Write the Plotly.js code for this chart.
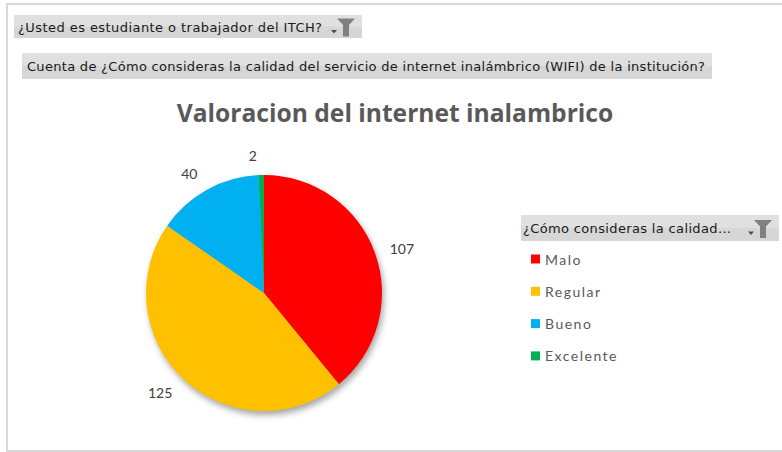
<!DOCTYPE html>
<html><head><meta charset="utf-8">
<script src="https://cdn.plot.ly/plotly-3.0.1.min.js"></script>
<style>
html,body{margin:0;padding:0;background:#fff;}
#chart{width:782px;height:452px;}
.pielayer .trace:first-child{filter:drop-shadow(2px 4px 3px rgba(0,0,0,0.35));}
</style></head><body><div id="chart"></div>
<script>
const categories = ['Malo', 'Regular', 'Bueno', 'Excelente'];
const counts = [107, 125, 40, 2];
const colors = ['#FF0000', '#FFC000', '#00B0F0', '#00B050'];
const chartTitle = 'Valoracion del internet inalambrico';
const filterField = '¿Usted es estudiante o trabajador del ITCH?';
const valueField = 'Cuenta de ¿Cómo consideras la calidad del servicio de internet inalámbrico (WIFI) de la institución?';
const legendField = '¿Cómo consideras la calidad...';

const W = 782, H = 452;
const px = x => x / W, py = y => 1 - y / H;
function domainFor(cx, cy, r) { return {x: [px(cx - r), px(cx + r)], y: [py(cy + r), py(cy - r)]}; }
function P(pts) { return 'M' + pts.map(p => px(p[0]) + ',' + py(p[1])).join('L') + 'Z'; }
function rect(x0, y0, x1, y1, fill, line) {
  return {type: 'rect', xref: 'paper', yref: 'paper', x0: px(x0), x1: px(x1), y0: py(y1), y1: py(y0),
    fillcolor: fill, line: line || {width: 0}, layer: 'below'};
}
function button(x0, y0, x1, y1) {
  return [rect(x0, y0, x1, y1, '#d6d6d6'), rect(x0, y0, x1, (y0 + y1) / 2, '#e0e0e0')];
}
function funnel(R, m) {
  return [
    {type: 'path', xref: 'paper', yref: 'paper', path: P([[R-31, m+3.5], [R-25, m+3.5], [R-28, m+7]]), fillcolor: '#4d4d4d', line: {width: 0}},
    {type: 'path', xref: 'paper', yref: 'paper', path: P([[R-25, m-8], [R-7, m-8], [R-13, m-1.5], [R-13, m+10], [R-19, m+10], [R-19, m-1.5]]), fillcolor: '#808080', line: {width: 0}}
  ];
}

const cx = 264, cy = 293, r = 118;
const traces = [
  {type: 'pie', values: counts, labels: categories, sort: false, direction: 'clockwise', rotation: 0,
   marker: {colors: colors, line: {width: 0}}, textinfo: 'none', hoverinfo: 'label+value',
   showlegend: false, domain: domainFor(cx, cy, r)},
  {type: 'pie', values: counts, labels: categories, sort: false, direction: 'clockwise', rotation: 0,
   marker: {colors: categories.map(() => 'rgba(0,0,0,0)'), line: {width: 0}},
   textinfo: 'value', textposition: 'outside',
   outsidetextfont: {family: 'Lato', size: 14, color: '#404040'},
   hoverinfo: 'skip', showlegend: false, domain: domainFor(cx, cy, r + 11)}
];

const btnFont = {family: 'DejaVu Sans', size: 13, color: '#1a1a1a'};
const shapes = [
  rect(7, 4, 800, 451, 'rgba(0,0,0,0)', {color: '#d9d9d9', width: 2}),
  ...button(14, 15, 362, 38),
  ...button(22, 53, 712, 79),
  ...button(521, 215, 779, 241),
  ...funnel(362, 26.5),
  ...funnel(779, 228)
];
const annotations = [
  {text: filterField, x: px(16), y: py(27), xref: 'paper', yref: 'paper', xanchor: 'left', yanchor: 'middle', align: 'left', showarrow: false, font: btnFont},
  {text: valueField, x: px(25), y: py(66), xref: 'paper', yref: 'paper', xanchor: 'left', yanchor: 'middle', align: 'left', showarrow: false, font: btnFont},
  {text: legendField, x: px(521), y: py(228), xref: 'paper', yref: 'paper', xanchor: 'left', yanchor: 'middle', align: 'left', showarrow: false, font: btnFont}
];
categories.forEach((c, i) => {
  const yc = 259 + i * 32.3;
  shapes.push({type: 'rect', xref: 'paper', yref: 'paper', x0: px(531), x1: px(540), y0: py(yc + 4.5), y1: py(yc - 4.5), fillcolor: colors[i], line: {width: 0}});
  annotations.push({text: c, x: px(543), y: py(yc), xref: 'paper', yref: 'paper', xanchor: 'left', yanchor: 'middle', align: 'left', showarrow: false,
    font: {family: 'Lato', size: 14, color: '#595959'}});
});

const layout = {
  width: W, height: H, margin: {l: 0, r: 0, t: 0, b: 0},
  paper_bgcolor: '#ffffff', plot_bgcolor: '#ffffff',
  title: {text: chartTitle, x: px(395), y: py(113), xanchor: 'center', yanchor: 'middle',
    font: {family: 'Open Sans', size: 24.6, weight: 'bold', color: '#595959'}},
  showlegend: false, shapes: shapes, annotations: annotations
};
const fitWidths = {};
fitWidths[filterField] = 304;
fitWidths[valueField] = 678;
fitWidths[legendField] = 208;
Plotly.newPlot('chart', traces, layout, {displayModeBar: false, staticPlot: true}).then(() => {
  document.querySelectorAll('.annotation-text').forEach(t => {
    if (categories.includes(t.textContent)) t.style.letterSpacing = '1.5px';
    if (fitWidths[t.textContent]) {
      t.setAttribute('textLength', fitWidths[t.textContent]);
      t.setAttribute('lengthAdjust', 'spacing');
    }
  });
});
</script></body></html>
